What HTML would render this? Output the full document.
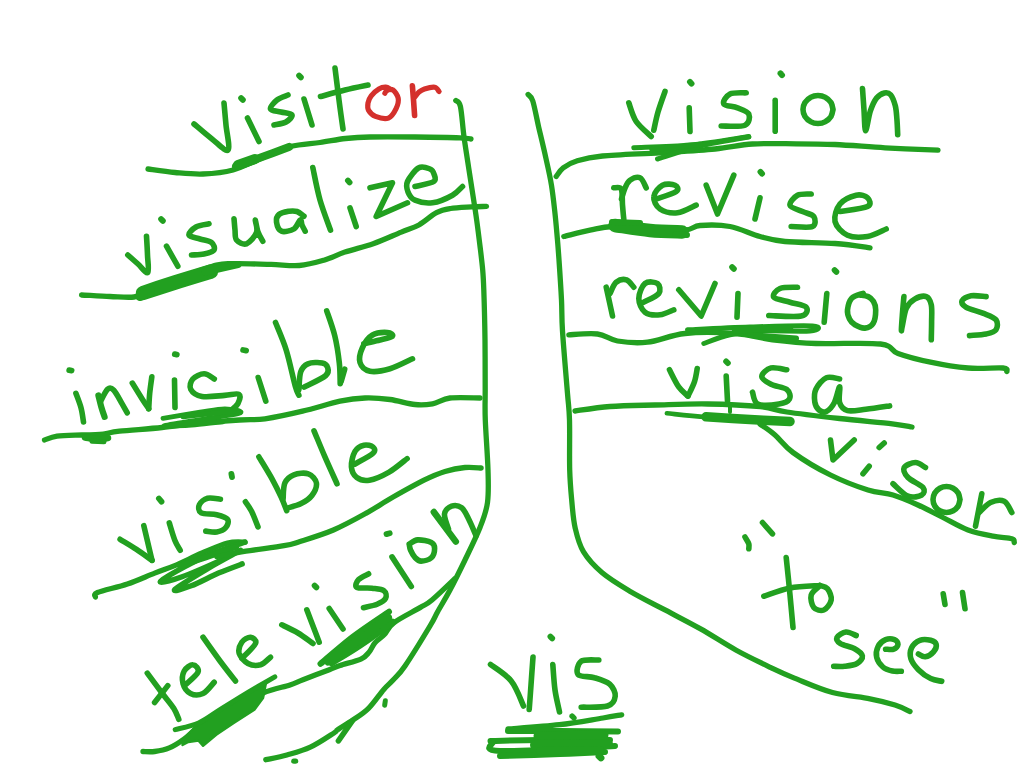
<!DOCTYPE html>
<html><head><meta charset="utf-8"><title>vis - to see</title>
<style>
html,body{margin:0;padding:0;background:#fff;}
body{width:1024px;height:768px;overflow:hidden;font-family:"Liberation Sans",sans-serif;}
svg{display:block}
</style></head><body>
<svg width="1024" height="768" viewBox="0 0 1024 768" fill="none" stroke-linecap="round" stroke-linejoin="round">
<rect width="1024" height="768" fill="#ffffff" stroke="none"/>
<path d="M455.8,100.5 C456.6,101.5 459.0,100.4 460.4,106.4 C461.8,112.5 462.6,126.7 464.0,136.8 C465.4,147.0 467.1,157.2 468.6,167.3 C470.2,177.5 471.9,188.8 473.3,197.7 C474.7,206.6 475.6,212.4 476.8,221.0 C478.0,229.6 479.4,241.1 480.4,249.3 C481.4,257.5 482.1,263.2 482.7,270.0 C483.3,276.8 483.4,278.3 483.8,290.0 C484.2,301.7 484.8,323.3 485.0,340.0 C485.2,356.7 485.1,376.7 485.2,390.0 C485.2,403.3 484.8,406.7 485.3,420.0 C485.8,433.3 487.6,456.2 488.0,470.0 C488.4,483.8 488.8,492.9 487.5,502.5 C486.2,512.1 483.8,517.9 480.0,527.5 C476.2,537.1 470.0,549.6 465.0,560.0 C460.0,570.4 454.6,581.3 450.0,590.0 C445.4,598.7 440.8,606.0 437.5,612.0 C434.2,618.0 435.4,617.0 430.0,626.0 C424.6,635.0 411.1,657.0 405.0,666.0 C398.9,675.0 396.6,676.1 393.1,680.0 C389.6,683.9 387.9,684.7 383.8,689.4 C379.7,694.1 373.6,703.3 368.5,708.4 C363.4,713.5 358.4,716.3 353.3,719.8 C348.2,723.3 341.3,727.3 338.0,729.5 C334.7,731.7 338.4,730.1 333.8,733.1 C329.1,736.1 318.1,743.6 310.3,747.2 C302.5,750.9 294.3,752.9 286.9,755.0 C279.5,757.1 269.3,758.9 265.8,759.7" stroke="#22a020" stroke-width="5.3"/>
<path d="M338.4,740.9 L352.5,720.6" stroke="#22a020" stroke-width="5.5"/>
<path d="M384.7,705.2 L385.3,700.8" stroke="#22a020" stroke-width="5"/>
<path d="M293.8,761.2 L295.6,761.2" stroke="#22a020" stroke-width="5.2"/>
<path d="M528.1,94.5 C528.9,95.6 531.0,95.6 532.8,101.0 C534.5,106.4 536.5,117.4 538.6,126.8 C540.8,136.2 543.6,147.5 545.7,157.3 C547.9,167.1 550.0,176.0 551.5,185.4 C553.0,194.8 554.0,204.5 555.0,213.5 C556.0,222.5 556.7,231.4 557.4,239.2 C558.1,246.9 558.3,249.9 559.0,260.0 C559.7,270.1 560.9,288.2 561.5,300.0 C562.1,311.8 561.5,315.4 562.5,331.0 C563.5,346.6 566.3,378.7 567.5,393.5 C568.7,408.3 569.1,407.2 569.5,420.0 C569.9,432.8 569.3,456.7 569.7,470.0 C570.1,483.3 570.8,490.3 571.7,500.0 C572.6,509.7 573.2,519.5 575.2,528.1 C577.2,536.7 578.9,544.2 583.4,551.6 C587.9,559.0 594.4,566.1 602.2,572.7 C610.0,579.3 619.8,585.1 630.3,591.4 C640.8,597.6 653.8,604.0 665.5,610.2 C677.2,616.5 688.9,622.3 700.6,628.9 C712.3,635.5 724.1,643.5 735.8,650.0 C747.5,656.5 761.1,662.9 770.9,667.6 C780.7,672.3 784.1,674.0 794.4,678.1 C804.7,682.2 819.9,689.1 832.5,692.5 C845.1,695.9 859.6,696.7 870.0,698.8 C880.4,700.8 888.3,702.9 895.0,705.0 C901.7,707.1 907.5,710.4 910.0,711.5" stroke="#22a020" stroke-width="5.3"/>
<path d="M194.0,124.0 C197.0,126.5 206.3,134.7 212.0,139.0 C217.7,143.3 225.7,152.3 228.0,150.0 C230.3,147.7 226.7,132.8 226.0,125.0 C225.3,117.2 224.3,106.7 224.0,103.0" stroke="#22a020" stroke-width="5.6"/>
<path d="M241.1,98.1 L242.9,99.9" stroke="#22a020" stroke-width="5.8"/>
<path d="M247.5,118.0 L259.0,141.5" stroke="#22a020" stroke-width="5.6"/>
<path d="M288.0,95.0 C286.2,95.8 279.9,97.7 277.0,100.0 C274.1,102.3 269.8,107.0 270.5,109.0 C271.2,111.0 277.4,111.0 281.0,112.0 C284.6,113.0 291.2,113.3 292.0,115.0 C292.8,116.7 289.0,120.3 286.0,122.0 C283.0,123.7 276.0,124.5 274.0,125.0" stroke="#22a020" stroke-width="5.6"/>
<path d="M299.1,75.6 L300.9,77.4" stroke="#22a020" stroke-width="5.8"/>
<path d="M304.0,99.0 L312.0,125.0" stroke="#22a020" stroke-width="5.6"/>
<path d="M335.0,68.0 C335.7,73.3 337.7,89.8 339.0,100.0 C340.3,110.2 342.3,124.2 343.0,129.0" stroke="#22a020" stroke-width="5.6"/>
<path d="M320.5,96.5 C324.6,95.4 337.1,91.9 345.0,90.0 C352.9,88.1 364.2,85.8 368.0,85.0" stroke="#22a020" stroke-width="5.6"/>
<path d="M391.0,89.5 C390.1,89.1 387.8,87.3 385.8,87.2 C383.8,87.1 381.3,87.5 378.9,88.9 C376.5,90.3 373.0,93.5 371.2,95.8 C369.4,98.1 368.4,100.6 368.0,103.0 C367.6,105.4 367.4,108.2 368.6,110.4 C369.9,112.6 372.2,115.1 375.5,116.4 C378.8,117.7 385.0,119.4 388.4,118.1 C391.8,116.8 394.5,112.0 396.1,108.7 C397.7,105.4 398.8,101.5 398.2,98.3 C397.6,95.1 394.6,91.0 392.7,89.8 C390.8,88.5 388.3,89.9 387.0,90.5 C385.7,91.1 385.2,92.8 384.9,93.2" stroke="#d4302c" stroke-width="5.2"/>
<path d="M412.4,85.9 C412.6,88.2 413.1,95.1 413.5,100.0 C413.9,104.9 414.4,112.9 414.6,115.5" stroke="#d4302c" stroke-width="5.6"/>
<path d="M414.8,97.0 C415.5,96.2 417.4,93.3 419.0,92.0 C420.6,90.7 421.9,89.7 424.5,88.9 C427.1,88.1 432.4,86.8 434.8,87.2 C437.2,87.6 438.4,90.8 439.1,91.5" stroke="#d4302c" stroke-width="5.2"/>
<path d="M148.0,169.0 C152.5,169.6 165.8,171.7 175.0,172.5 C184.2,173.3 193.3,174.4 203.0,174.0 C212.7,173.6 223.2,172.7 233.0,170.0 C242.8,167.3 252.4,161.9 262.0,158.0 C271.6,154.1 280.8,149.1 290.5,146.5 C300.2,143.9 310.8,143.8 320.0,142.5 C329.2,141.2 337.2,139.4 345.5,138.5 C353.8,137.6 358.4,137.2 370.0,137.0 C381.6,136.8 400.0,136.9 415.0,137.0 C430.0,137.1 450.7,137.4 460.0,137.8 C469.3,138.1 469.2,138.8 471.0,139.0" stroke="#22a020" stroke-width="5.3"/>
<path d="M236.0,166.5 C240.3,164.9 253.2,160.2 262.0,157.0 C270.8,153.8 284.5,148.7 289.0,147.0" stroke="#22a020" stroke-width="8"/>
<path d="M238.0,165.0 L255.0,159.0" stroke="#22a020" stroke-width="10"/>
<path d="M127.8,255.0 C129.5,256.5 134.7,261.1 138.0,264.0 C141.3,266.9 146.2,274.0 147.8,272.5 C149.3,271.0 147.7,261.0 147.5,255.0 C147.3,249.0 146.7,239.4 146.5,236.2" stroke="#22a020" stroke-width="5.6"/>
<path d="M161.1,219.1 L162.9,220.9" stroke="#22a020" stroke-width="5.8"/>
<path d="M166.5,246.2 L177.8,266.2" stroke="#22a020" stroke-width="5.6"/>
<path d="M209.0,223.8 C206.8,224.3 199.3,225.1 196.0,227.0 C192.7,228.9 188.3,233.0 189.0,235.0 C189.7,237.0 196.2,237.8 200.0,239.0 C203.8,240.2 209.2,240.7 211.5,242.5 C213.8,244.3 215.2,248.1 214.0,250.0 C212.8,251.9 207.8,253.2 204.0,254.0 C200.2,254.8 193.6,254.8 191.5,255.0" stroke="#22a020" stroke-width="5.6"/>
<path d="M234.0,218.8 C234.2,220.6 234.6,226.5 235.0,230.0 C235.4,233.5 234.6,237.7 236.5,240.0 C238.4,242.3 243.2,245.0 246.5,243.8 C249.8,242.5 255.0,236.5 256.5,232.5 C258.0,228.5 255.0,220.1 255.2,220.0 C255.5,219.9 256.8,228.5 258.0,232.0 C259.2,235.5 262.0,239.7 262.8,241.2" stroke="#22a020" stroke-width="5.6"/>
<path d="M304.0,216.2 C302.8,215.5 299.5,212.3 297.0,211.5 C294.5,210.7 292.0,210.8 289.0,211.2 C286.0,211.8 281.1,212.7 279.0,214.5 C276.9,216.3 276.1,219.2 276.5,222.0 C276.9,224.8 278.6,230.1 281.5,231.2 C284.4,232.4 290.9,230.6 294.0,228.8 C297.1,226.9 298.9,220.6 300.2,220.0 C301.6,219.4 301.2,223.1 302.0,225.0 C302.8,226.9 304.7,230.2 305.2,231.2" stroke="#22a020" stroke-width="5.6"/>
<path d="M312.8,167.5 C314.0,172.9 317.0,189.5 320.0,200.0 C323.0,210.5 328.8,225.2 330.5,230.2" stroke="#22a020" stroke-width="5.6"/>
<path d="M347.9,180.6 L349.6,182.4" stroke="#22a020" stroke-width="5.8"/>
<path d="M350.0,207.8 L356.2,226.5" stroke="#22a020" stroke-width="5.6"/>
<path d="M370.0,187.8 L392.5,182.8 L376.2,216.5 L407.5,202.8" stroke="#22a020" stroke-width="5.6"/>
<path d="M415.0,186.5 C418.1,185.7 430.6,183.6 433.8,181.5 C436.9,179.4 434.6,176.1 434.0,174.0 C433.4,171.9 432.5,170.0 430.0,169.0 C427.5,168.0 422.5,165.7 418.8,167.8 C415.0,169.8 409.3,177.5 407.5,181.5 C405.7,185.5 406.8,188.9 408.0,192.0 C409.2,195.1 410.9,198.5 415.0,200.2 C419.1,202.0 426.2,203.6 432.5,202.8 C438.8,201.9 447.5,198.0 452.5,195.2 C457.5,192.5 460.8,188.0 462.5,186.5" stroke="#22a020" stroke-width="5.6"/>
<path d="M81.5,295.0 C86.2,295.2 101.2,296.2 110.0,296.5 C118.8,296.8 128.2,297.8 134.0,297.0 C139.8,296.2 137.3,295.2 145.0,292.0 C152.7,288.8 168.1,282.5 180.0,278.0 C191.9,273.5 207.2,267.4 216.5,265.0 C225.8,262.6 226.9,263.8 236.0,263.7 C245.1,263.6 260.6,264.1 271.2,264.4 C281.8,264.7 290.5,266.2 299.3,265.5 C308.1,264.8 316.3,262.4 323.9,260.2 C331.5,258.0 336.8,254.8 345.0,252.1 C353.2,249.3 363.8,247.0 373.2,243.7 C382.6,240.4 393.7,235.2 401.3,232.1 C408.9,229.0 413.0,228.2 418.9,225.0 C424.8,221.8 431.2,215.4 436.5,212.7 C441.8,209.9 444.6,209.5 450.5,208.5 C456.4,207.5 465.6,207.2 471.6,206.8 C477.6,206.5 484.0,206.5 486.5,206.4" stroke="#22a020" stroke-width="5.3"/>
<path d="M143.0,293.0 C148.3,291.2 163.7,286.1 175.0,282.5 C186.3,278.9 205.0,273.3 211.0,271.5" stroke="#22a020" stroke-width="14.5"/>
<path d="M140.0,296.0 L150.0,291.0" stroke="#22a020" stroke-width="10"/>
<path d="M205.0,272.0 L238.0,264.5" stroke="#22a020" stroke-width="7"/>
<path d="M69.2,370.2 L71.6,370.6" stroke="#22a020" stroke-width="5.8"/>
<path d="M75.9,393.3 C76.8,395.7 79.7,402.9 81.0,407.7 C82.3,412.5 83.1,419.6 83.5,422.0" stroke="#22a020" stroke-width="5.6"/>
<path d="M98.4,395.4 C98.9,397.4 100.5,404.1 101.5,407.7 C102.5,411.3 104.1,415.4 104.6,416.9" stroke="#22a020" stroke-width="6.2"/>
<path d="M100.5,401.5 C101.7,399.4 105.5,391.1 107.7,389.2 C109.9,387.3 111.4,387.8 113.8,390.2 C116.2,392.6 119.8,399.8 122.0,403.6 C124.2,407.4 126.3,411.3 127.2,412.8" stroke="#22a020" stroke-width="5.6"/>
<path d="M132.3,383.1 C134.0,385.8 139.8,395.2 142.5,399.5 C145.2,403.8 147.7,407.2 148.7,408.7" stroke="#22a020" stroke-width="5.6"/>
<path d="M151.8,376.9 C151.5,379.6 150.2,388.0 149.7,393.3 C149.2,398.6 148.9,406.1 148.7,408.7" stroke="#22a020" stroke-width="5.6"/>
<path d="M174.8,354.2 L176.8,354.6" stroke="#22a020" stroke-width="5.8"/>
<path d="M174.5,380.0 L175.0,407.5" stroke="#22a020" stroke-width="5.6"/>
<path d="M214.3,379.0 C212.6,378.1 207.7,373.8 204.1,373.8 C200.5,373.8 195.0,376.4 192.8,379.0 C190.6,381.6 189.2,386.3 190.7,389.2 C192.2,392.1 196.3,395.4 202.0,396.4 C207.7,397.4 218.4,395.8 224.6,395.4 C230.8,395.0 236.7,392.9 238.9,394.3 C241.1,395.7 239.3,400.9 237.9,403.6 C236.5,406.3 231.9,409.6 230.7,410.8" stroke="#22a020" stroke-width="5.6"/>
<path d="M243.1,350.0 L246.1,350.6" stroke="#22a020" stroke-width="5.8"/>
<path d="M258.2,377.5 L265.8,401.2" stroke="#22a020" stroke-width="5.6"/>
<path d="M275.5,322.5 C277.3,327.1 283.0,339.7 286.3,350.3 C289.6,360.9 293.2,378.8 295.3,386.2 C297.4,393.7 298.3,393.7 298.9,395.2" stroke="#22a020" stroke-width="5.6"/>
<path d="M298.9,389.8 C299.2,386.8 299.2,376.2 300.7,371.9 C302.2,367.6 304.3,365.3 307.9,363.8 C311.5,362.3 319.0,362.3 322.2,362.9 C325.5,363.5 327.0,365.3 327.6,367.4 C328.2,369.5 329.7,372.2 325.8,375.5 C321.9,378.8 307.9,385.2 304.3,387.1" stroke="#22a020" stroke-width="5.6"/>
<path d="M326.7,310.8 C328.1,315.0 332.7,327.2 334.8,335.9 C336.9,344.6 338.4,354.9 339.3,362.9 C340.2,370.8 340.1,380.2 340.2,383.6" stroke="#22a020" stroke-width="5.6"/>
<path d="M344.7,369.2 L341.1,381.8" stroke="#22a020" stroke-width="5.6"/>
<path d="M363.8,343.8 C366.5,343.1 375.2,341.2 380.0,340.0 C384.8,338.8 391.2,337.5 392.5,336.2 C393.8,335.0 390.8,332.7 387.5,332.5 C384.2,332.3 376.7,332.5 372.5,335.0 C368.3,337.5 364.6,342.9 362.5,347.5 C360.4,352.1 358.8,358.5 360.0,362.5 C361.2,366.5 365.0,370.2 370.0,371.2 C375.0,372.3 382.9,370.8 390.0,368.8 C397.1,366.7 408.8,360.4 412.5,358.8" stroke="#22a020" stroke-width="5.6"/>
<path d="M44.5,440.0 C46.6,439.4 50.8,437.1 57.0,436.2 C63.2,435.4 74.8,435.3 82.0,435.0 C89.2,434.7 93.8,435.1 100.0,434.5 C106.2,433.9 109.2,432.4 119.5,431.2 C129.8,430.1 148.6,428.9 162.0,427.5 C175.4,426.1 187.1,424.2 200.0,423.0 C212.9,421.8 228.7,420.7 239.5,420.0 C250.3,419.3 254.5,420.2 265.0,418.8 C275.5,417.3 290.0,414.2 302.5,411.2 C315.0,408.3 329.6,403.5 340.0,401.2 C350.4,399.0 356.7,398.3 365.0,398.0 C373.3,397.7 381.7,398.4 390.0,399.5 C398.3,400.6 407.9,403.8 415.0,404.5 C422.1,405.2 426.7,404.8 432.5,403.8 C438.3,402.7 442.1,399.0 450.0,398.0 C457.9,397.0 475.0,398.0 480.0,398.0" stroke="#22a020" stroke-width="5.3"/>
<path d="M85.0,437.5 C87.3,437.8 95.2,439.4 99.0,439.5 C102.8,439.6 106.5,438.2 108.0,438.0" stroke="#22a020" stroke-width="6.5"/>
<path d="M92.0,441.2 L104.0,441.8" stroke="#22a020" stroke-width="5"/>
<path d="M163.0,418.3 C169.2,417.3 189.7,413.8 200.0,412.2 C210.3,410.6 218.2,408.7 225.0,408.8 C231.8,408.9 243.8,411.1 240.5,412.8 C237.2,414.5 217.8,416.6 205.0,418.8 C192.2,421.0 165.7,424.8 164.0,425.8 C162.3,426.8 185.2,425.5 195.0,424.8 C204.8,424.1 218.3,422.3 223.0,421.8" stroke="#22a020" stroke-width="4.8"/>
<path d="M183.0,416.8 L234.0,411.0" stroke="#22a020" stroke-width="5"/>
<path d="M120.1,539.3 C122.8,541.0 131.2,545.9 136.5,549.4 C141.8,552.9 149.4,558.5 152.0,560.3" stroke="#22a020" stroke-width="5.6"/>
<path d="M152.0,560.3 L143.8,525.6" stroke="#22a020" stroke-width="5.6"/>
<path d="M158.9,498.5 L161.5,501.7" stroke="#22a020" stroke-width="5.8"/>
<path d="M169.3,522.9 C170.2,525.8 173.0,535.6 174.8,540.2 C176.6,544.8 179.3,548.6 180.2,550.3" stroke="#22a020" stroke-width="5.6"/>
<path d="M220.4,499.2 C218.3,499.1 211.1,497.4 207.6,498.3 C204.1,499.2 200.5,502.3 199.4,504.7 C198.3,507.1 198.3,511.2 201.2,512.9 C204.1,514.6 212.3,513.6 216.7,514.7 C221.1,515.8 226.1,517.2 227.6,519.3 C229.1,521.4 227.6,525.4 225.8,527.5 C224.0,529.6 220.0,531.4 216.7,532.0 C213.4,532.6 207.6,531.2 205.8,531.1" stroke="#22a020" stroke-width="5.6"/>
<path d="M231.4,473.9 L232.0,477.1" stroke="#22a020" stroke-width="5.8"/>
<path d="M245.4,501.8 C246.4,503.4 249.6,507.4 251.7,511.6 C253.8,515.8 256.9,524.4 258.0,526.9" stroke="#22a020" stroke-width="5.6"/>
<path d="M258.9,456.8 C261.1,460.6 268.6,472.6 272.3,479.3 C276.0,486.1 278.9,492.1 281.3,497.3 C283.7,502.5 285.8,508.5 286.7,510.7" stroke="#22a020" stroke-width="5.6"/>
<path d="M283.1,499.0 C283.4,496.3 283.1,486.9 284.9,482.9 C286.7,478.9 290.0,476.3 293.9,474.8 C297.8,473.3 304.6,472.5 308.3,473.9 C312.1,475.2 315.8,479.3 316.4,482.9 C317.0,486.5 314.4,492.1 311.9,495.5 C309.3,498.9 305.2,501.5 301.1,503.6 C297.1,505.7 289.9,507.3 287.6,508.0" stroke="#22a020" stroke-width="5.6"/>
<path d="M314.0,430.8 C315.8,435.0 320.7,447.1 324.5,455.9 C328.3,464.7 334.9,479.1 337.0,483.8" stroke="#22a020" stroke-width="5.6"/>
<path d="M355.0,464.0 C358.0,462.2 370.0,456.0 373.0,453.2 C376.0,450.4 374.5,448.3 373.0,447.0 C371.5,445.7 367.0,444.5 364.0,445.2 C361.0,445.9 357.1,447.8 355.0,451.4 C352.9,455.0 351.1,462.3 351.4,466.7 C351.7,471.1 353.8,475.2 356.8,477.5 C359.8,479.8 364.0,481.1 369.4,480.2 C374.8,479.3 382.8,475.7 389.1,472.1 C395.4,468.5 404.1,460.9 407.1,458.6" stroke="#22a020" stroke-width="5.6"/>
<path d="M95.5,597.0 C95.8,596.2 92.2,594.7 97.5,592.5 C102.8,590.3 117.9,587.2 127.4,584.0 C136.9,580.8 146.5,576.3 154.7,573.1 C162.9,569.9 168.7,568.2 176.6,564.9 C184.5,561.5 193.6,556.6 202.1,553.0 C210.6,549.4 220.4,544.8 227.6,543.0 C234.8,541.2 242.1,542.2 245.0,542.1" stroke="#22a020" stroke-width="5.3"/>
<path d="M245.0,542.1 C239.1,544.2 220.8,549.9 209.4,554.8 C198.0,559.6 184.8,566.6 176.6,571.2 C168.4,575.8 159.3,581.3 160.2,582.2 C161.1,583.1 172.7,580.1 182.1,576.7 C191.5,573.4 207.0,566.5 216.7,562.1 C226.4,557.7 241.6,549.4 240.4,550.3 C239.2,551.2 220.3,561.1 209.4,567.6 C198.5,574.1 177.8,586.5 174.8,589.5 C171.8,592.5 183.9,588.5 191.2,585.8 C198.5,583.1 210.0,576.8 218.5,573.1 C227.0,569.5 238.2,565.4 242.2,563.9" stroke="#22a020" stroke-width="5.4"/>
<path d="M180.0,566.0 C185.0,564.3 200.7,559.2 210.0,556.0 C219.3,552.8 231.7,548.5 236.0,547.0" stroke="#22a020" stroke-width="6"/>
<path d="M216.7,556.6 C221.6,555.7 234.7,553.0 245.9,551.2 C257.1,549.4 275.0,547.3 284.0,545.7 C293.0,544.1 291.8,544.1 300.0,541.5 C308.2,538.9 322.4,534.7 333.4,530.0 C344.4,525.3 355.9,518.9 365.8,513.4 C375.7,507.9 383.0,502.8 392.7,497.3 C402.4,491.8 415.3,484.5 424.0,480.2 C432.7,475.9 438.2,473.6 445.0,471.5 C451.8,469.4 459.0,468.1 465.0,467.5 C471.0,466.9 478.5,467.9 481.2,468.0" stroke="#22a020" stroke-width="5.3"/>
<path d="M147.3,673.2 C149.8,676.5 157.6,687.1 162.0,693.0 C166.4,698.9 170.9,703.9 173.7,708.3 C176.5,712.7 178.0,717.5 178.8,719.3" stroke="#22a020" stroke-width="5.6"/>
<path d="M154.6,702.5 L167.8,685.6" stroke="#22a020" stroke-width="5.6"/>
<path d="M184.2,686.0 C186.5,683.7 196.5,675.8 198.0,672.2 C199.5,668.7 195.3,665.0 193.0,664.8 C190.7,664.5 185.9,667.9 184.2,671.0 C182.6,674.1 182.0,679.8 183.0,683.5 C184.0,687.2 187.2,691.8 190.5,693.5 C193.8,695.2 199.0,695.4 203.0,693.5 C207.0,691.6 212.4,684.1 214.2,682.2" stroke="#22a020" stroke-width="5.6"/>
<path d="M203.0,637.2 C205.8,641.2 214.6,653.7 220.0,661.0 C225.4,668.3 232.9,677.7 235.5,681.0" stroke="#22a020" stroke-width="5.6"/>
<path d="M241.8,658.5 C244.0,656.0 254.0,647.0 255.5,643.5 C257.0,640.0 252.8,637.5 250.5,637.2 C248.2,637.0 243.6,639.5 241.8,642.2 C239.9,645.0 238.2,650.0 239.2,653.5 C240.3,657.0 244.5,661.6 248.0,663.5 C251.5,665.4 256.8,665.8 260.5,664.8 C264.2,663.7 268.8,658.5 270.5,657.2" stroke="#22a020" stroke-width="5.6"/>
<path d="M281.8,624.8 C284.5,626.1 292.8,629.9 298.0,633.0 C303.2,636.1 310.5,641.8 313.0,643.5" stroke="#22a020" stroke-width="5.6"/>
<path d="M306.8,609.8 C307.8,612.5 310.9,620.6 313.0,626.0 C315.1,631.4 318.2,639.5 319.2,642.2" stroke="#22a020" stroke-width="5.6"/>
<path d="M314.6,585.6 L316.4,587.4" stroke="#22a020" stroke-width="5.8"/>
<path d="M329.2,608.5 L343.0,629.0" stroke="#22a020" stroke-width="5.6"/>
<path d="M368.6,573.8 C366.9,574.8 360.5,577.5 358.5,579.7 C356.5,582.0 354.6,585.9 356.8,587.3 C359.1,588.7 367.5,587.6 372.0,588.2 C376.5,588.8 381.6,589.0 383.9,590.7 C386.2,592.4 386.7,596.0 385.6,598.3 C384.5,600.6 380.8,602.7 377.1,604.3 C373.4,605.9 365.8,607.1 363.5,607.7" stroke="#22a020" stroke-width="5.6"/>
<path d="M386.5,534.1 L389.7,533.3" stroke="#22a020" stroke-width="5.8"/>
<path d="M392.0,556.9 L411.3,586.5" stroke="#22a020" stroke-width="5.6"/>
<path d="M409.2,544.2 C410.7,543.5 414.0,540.2 417.7,539.9 C421.4,539.6 428.5,541.1 431.3,542.5 C434.1,543.9 434.6,545.9 434.6,548.4 C434.6,550.9 433.6,555.6 431.3,557.7 C429.1,559.8 423.8,561.1 421.1,561.1 C418.4,561.1 417.0,559.6 415.2,557.7 C413.4,555.9 411.5,552.2 410.5,550.0 C409.5,547.8 409.5,545.2 409.2,544.2" stroke="#22a020" stroke-width="5.6"/>
<path d="M433.8,512.0 L455.8,541.6" stroke="#22a020" stroke-width="6.5"/>
<path d="M448.5,529.0 C447.8,526.5 444.0,517.8 444.5,514.0 C445.0,510.2 448.7,507.1 451.6,506.1 C454.5,505.1 458.9,505.7 461.7,507.8 C464.5,509.9 466.1,514.1 468.5,518.8 C470.9,523.4 474.8,532.9 476.1,535.7" stroke="#22a020" stroke-width="5.6"/>
<path d="M143.0,751.5 C144.9,751.5 150.2,752.1 154.6,751.5 C159.0,750.9 164.4,750.0 169.3,747.9 C174.2,745.8 178.9,742.8 184.0,739.1 C189.1,735.5 192.3,731.0 200.0,726.0 C207.7,721.0 219.5,714.5 230.0,709.0 C240.5,703.5 253.0,697.0 263.0,693.0 C273.0,689.0 283.3,687.1 290.0,684.9 C296.7,682.7 296.4,682.3 303.0,679.8 C309.6,677.2 323.1,672.1 329.3,669.7 C335.5,667.3 334.7,667.3 340.0,665.5 C345.3,663.7 356.0,661.3 360.9,659.1 C365.8,656.9 366.8,654.8 369.1,652.1 C371.5,649.4 372.4,645.6 375.0,642.7 C377.6,639.8 381.3,637.8 384.4,634.5 C387.5,631.2 387.8,627.3 393.8,622.8 C399.7,618.3 413.6,611.4 420.0,607.6 C426.4,603.8 426.2,604.9 432.0,600.0 C437.8,595.1 451.2,582.1 455.0,578.5" stroke="#22a020" stroke-width="5.3"/>
<path d="M184.0,739.0 L198.6,723.0 L222.0,708.3 L248.4,692.2 L266.0,682.5 L263.0,698.1 L254.3,709.8 L233.7,723.0 L216.2,734.7 L203.0,745.7 L198.6,740.6 L188.3,742.0 L182.5,745.0 L184.0,739.0Z" stroke="#22a020" stroke-width="2.5" fill="#22a020"/>
<path d="M175.2,729.6 C179.1,728.5 190.8,726.5 198.6,723.0 C206.4,719.5 213.7,713.4 222.0,708.3 C230.3,703.2 239.6,697.5 248.4,692.2 C257.2,687.0 270.4,679.4 274.8,676.8" stroke="#22a020" stroke-width="5"/>
<path d="M320.5,663.8 C325.9,659.3 341.3,645.6 352.7,636.9 C364.1,628.2 382.9,615.9 389.0,611.7" stroke="#22a020" stroke-width="6"/>
<path d="M331.6,662.7 C336.3,659.8 349.8,651.8 360.0,645.0 C370.2,638.2 387.2,626.0 392.6,622.2" stroke="#22a020" stroke-width="7"/>
<path d="M328.0,661.5 C332.8,658.2 347.0,648.8 357.0,641.5 C367.0,634.2 382.8,621.5 388.0,617.5" stroke="#22a020" stroke-width="8"/>
<path d="M490.5,664.5 C494.0,667.2 505.8,674.1 511.2,681.0 C516.8,687.9 521.5,701.8 523.5,706.0" stroke="#22a020" stroke-width="5.6"/>
<path d="M533.0,657.0 C532.7,661.7 531.6,676.2 531.0,685.0 C530.4,693.8 529.5,705.4 529.2,709.5" stroke="#22a020" stroke-width="5.6"/>
<path d="M550.4,636.6 L552.2,638.4" stroke="#22a020" stroke-width="5.8"/>
<path d="M552.8,664.5 C553.2,668.8 553.9,682.1 555.0,690.0 C556.1,697.9 558.8,708.3 559.5,712.0" stroke="#22a020" stroke-width="5.6"/>
<path d="M572.1,716.1 L573.9,717.9" stroke="#22a020" stroke-width="5.5"/>
<path d="M598.8,660.0 C595.8,660.2 584.7,658.9 581.2,661.2 C577.8,663.6 575.8,671.7 578.0,674.4 C580.2,677.1 589.1,676.1 594.4,677.7 C599.7,679.3 606.2,681.1 609.7,684.2 C613.2,687.3 615.6,692.6 615.2,696.2 C614.8,699.9 613.2,704.2 607.5,706.0 C601.8,707.8 585.6,707.0 581.2,707.2" stroke="#22a020" stroke-width="5.6"/>
<path d="M508.0,729.0 C516.6,728.3 543.6,726.5 559.4,724.7 C575.2,722.9 592.6,719.6 603.0,718.0 C613.4,716.4 618.6,715.3 621.7,714.8" stroke="#22a020" stroke-width="5.3"/>
<path d="M508.0,731.0 C516.7,731.0 541.7,730.9 560.0,731.0 C578.3,731.1 608.3,731.4 618.0,731.5" stroke="#22a020" stroke-width="6"/>
<path d="M490.5,741.0 C498.8,740.8 520.1,740.2 540.0,740.0 C559.9,739.8 598.3,740.0 610.0,740.0" stroke="#22a020" stroke-width="6"/>
<path d="M493.0,742.0 C494.2,743.5 479.7,750.3 500.0,751.0 C520.3,751.7 595.8,746.8 615.0,746.0" stroke="#22a020" stroke-width="6"/>
<path d="M500.0,756.0 C510.0,755.7 542.5,754.7 560.0,754.0 C577.5,753.3 597.5,752.3 605.0,752.0" stroke="#22a020" stroke-width="6"/>
<path d="M538.0,736.0 L604.0,735.0" stroke="#22a020" stroke-width="9"/>
<path d="M535.0,745.0 L608.0,744.0" stroke="#22a020" stroke-width="10"/>
<path d="M540.0,751.0 L600.0,750.0" stroke="#22a020" stroke-width="8"/>
<path d="M599.1,756.1 L600.9,757.9" stroke="#22a020" stroke-width="7"/>
<path d="M628.8,102.8 C630.0,105.9 632.5,115.9 636.2,121.5 C640.0,127.1 648.8,134.0 651.2,136.5" stroke="#22a020" stroke-width="5.6"/>
<path d="M665.0,91.5 C663.8,94.9 659.9,105.5 658.0,112.0 C656.1,118.5 654.5,127.2 653.8,130.2" stroke="#22a020" stroke-width="5.6"/>
<path d="M689.9,81.8 L691.6,83.7" stroke="#22a020" stroke-width="5.8"/>
<path d="M689.2,107.8 L690.0,131.5" stroke="#22a020" stroke-width="5.6"/>
<path d="M746.2,92.8 C743.5,93.0 733.8,92.1 730.0,94.0 C726.2,95.9 722.5,101.7 723.8,104.0 C725.0,106.3 733.3,106.1 737.5,107.8 C741.7,109.4 747.5,111.1 748.8,114.0 C750.0,116.9 749.6,123.2 745.0,125.2 C740.4,127.2 725.2,125.9 721.2,126.0" stroke="#22a020" stroke-width="5.6"/>
<path d="M780.4,73.3 L782.1,75.2" stroke="#22a020" stroke-width="5.8"/>
<path d="M775.2,100.2 L775.2,131.2" stroke="#22a020" stroke-width="5.6"/>
<path d="M833.0,109.5 C832.7,110.7 832.2,114.5 831.0,116.5 C829.7,118.5 827.7,120.5 825.5,121.6 C823.3,122.8 820.5,123.5 818.0,123.5 C815.5,123.5 812.7,122.8 810.5,121.6 C808.3,120.5 806.3,118.5 805.0,116.5 C803.8,114.5 803.0,111.8 803.0,109.5 C803.0,107.2 803.8,104.5 805.0,102.5 C806.3,100.5 808.3,98.5 810.5,97.4 C812.7,96.2 815.5,95.5 818.0,95.5 C820.5,95.5 823.3,96.2 825.5,97.4 C827.7,98.5 829.7,100.5 831.0,102.5 C832.2,104.5 832.7,108.3 833.0,109.5" stroke="#22a020" stroke-width="5.6"/>
<path d="M862.5,88.6 C862.8,92.2 863.5,103.0 864.0,110.0 C864.5,117.0 864.6,130.6 865.6,130.8 C866.6,131.0 868.5,116.7 870.3,111.2 C872.1,105.8 874.2,101.1 876.6,98.0 C879.0,94.9 882.1,93.4 884.4,92.9 C886.7,92.4 888.8,92.7 890.6,94.8 C892.4,96.9 894.2,101.8 895.3,105.8 C896.3,109.8 896.5,114.2 896.9,119.0 C897.3,123.8 897.6,132.1 897.7,134.7" stroke="#22a020" stroke-width="5.6"/>
<path d="M556.2,176.5 C557.4,175.1 559.7,170.4 563.2,167.8 C566.7,165.2 570.8,162.8 577.3,160.8 C583.8,158.8 588.7,157.3 602.5,156.0 C616.3,154.7 641.2,153.9 660.0,152.8 C678.8,151.6 699.6,150.5 715.0,149.0 C730.4,147.5 739.0,144.9 752.5,144.0 C766.0,143.1 782.2,143.7 796.0,143.8 C809.8,143.8 820.2,143.8 835.0,144.5 C849.8,145.2 867.8,146.8 885.0,147.8 C902.2,148.7 929.2,149.8 938.0,150.2" stroke="#22a020" stroke-width="5.3"/>
<path d="M633.8,147.8 C643.1,147.3 670.8,146.9 690.0,145.0 C709.2,143.1 739.0,137.9 748.8,136.5" stroke="#22a020" stroke-width="5"/>
<path d="M748.8,137.0 C740.6,138.5 715.2,142.3 700.0,146.0 C684.8,149.7 664.6,156.8 657.5,159.0" stroke="#22a020" stroke-width="5"/>
<path d="M652.0,149.5 L700.0,144.5" stroke="#22a020" stroke-width="5.5"/>
<path d="M613.8,187.8 C615.0,188.0 619.8,186.1 621.2,189.0 C622.7,191.9 622.1,200.0 622.5,205.0 C622.9,210.0 623.5,216.7 623.8,219.0" stroke="#22a020" stroke-width="5.6"/>
<path d="M621.5,199.0 C622.1,197.2 623.6,191.1 625.0,188.0 C626.4,184.9 627.5,182.0 630.0,180.2 C632.5,178.5 637.3,176.5 640.0,177.8 C642.7,179.0 645.2,186.1 646.2,187.8" stroke="#22a020" stroke-width="5.6"/>
<path d="M656.2,199.0 C659.6,197.8 673.1,193.8 676.2,191.5 C679.4,189.2 677.3,186.3 675.0,185.2 C672.7,184.2 666.0,183.4 662.5,185.2 C659.0,187.1 654.2,192.5 653.8,196.5 C653.3,200.5 656.0,206.3 660.0,209.0 C664.0,211.7 671.5,213.4 677.5,212.8 C683.5,212.1 693.1,206.5 696.2,205.2" stroke="#22a020" stroke-width="5.6"/>
<path d="M706.2,185.2 L717.5,214.0 L733.8,175.2" stroke="#22a020" stroke-width="5.6"/>
<path d="M760.4,171.8 L762.1,173.7" stroke="#22a020" stroke-width="5.8"/>
<path d="M760.0,197.8 L755.0,219.0" stroke="#22a020" stroke-width="5.6"/>
<path d="M811.2,194.0 C809.0,194.2 801.0,193.4 797.5,195.2 C794.0,197.1 789.2,202.5 790.0,205.2 C790.8,208.0 798.5,209.6 802.5,211.5 C806.5,213.4 812.1,214.0 813.8,216.5 C815.4,219.0 816.2,224.8 812.5,226.5 C808.8,228.2 794.8,226.5 791.2,226.5" stroke="#22a020" stroke-width="5.6"/>
<path d="M840.0,211.5 C844.6,210.7 862.9,208.8 867.5,206.5 C872.1,204.2 869.4,199.6 867.5,197.8 C865.6,195.9 860.8,194.2 856.2,195.2 C851.7,196.3 843.5,199.6 840.0,204.0 C836.5,208.4 833.8,216.3 835.0,221.5 C836.2,226.7 842.1,232.8 847.5,235.2 C852.9,237.8 861.0,237.5 867.5,236.5 C874.0,235.5 883.1,230.2 886.2,229.0" stroke="#22a020" stroke-width="5.6"/>
<path d="M563.8,236.5 C568.1,235.5 581.9,231.9 590.0,230.2 C598.1,228.6 602.5,226.9 612.5,226.5 C622.5,226.1 637.9,227.4 650.0,228.0 C662.1,228.6 676.7,230.4 685.0,230.0 C693.3,229.6 692.5,226.1 700.0,225.5 C707.5,224.9 720.0,224.7 730.0,226.5 C740.0,228.3 750.8,234.0 760.0,236.5 C769.2,239.0 772.5,240.3 785.0,241.5 C797.5,242.7 820.8,242.5 835.0,243.5 C849.2,244.5 864.2,247.0 870.0,247.8" stroke="#22a020" stroke-width="5.3"/>
<path d="M615.0,225.5 C620.8,226.3 638.8,229.4 650.0,230.5 C661.2,231.6 676.7,231.8 682.0,232.0" stroke="#22a020" stroke-width="13.5"/>
<path d="M612.0,222.0 L640.0,223.0" stroke="#22a020" stroke-width="6"/>
<path d="M675.0,234.5 L687.0,235.0" stroke="#22a020" stroke-width="6"/>
<path d="M606.2,287.2 L612.5,316.0" stroke="#22a020" stroke-width="5.6"/>
<path d="M610.0,293.5 C611.0,291.6 613.5,284.5 616.2,282.2 C619.0,280.0 623.3,278.9 626.2,279.8 C629.2,280.6 632.5,286.0 633.8,287.2" stroke="#22a020" stroke-width="5.6"/>
<path d="M643.8,302.2 C646.2,300.8 656.5,296.6 658.8,293.5 C661.0,290.4 659.8,285.2 657.5,283.5 C655.2,281.8 648.1,281.0 645.0,283.5 C641.9,286.0 638.8,293.7 638.8,298.5 C638.8,303.3 641.5,309.5 645.0,312.2 C648.5,315.0 655.2,315.2 660.0,314.8 C664.8,314.3 671.5,310.6 673.8,309.8" stroke="#22a020" stroke-width="5.6"/>
<path d="M678.8,289.8 L701.2,316.0 L715.0,283.5" stroke="#22a020" stroke-width="5.6"/>
<path d="M732.1,267.1 L733.9,268.9" stroke="#22a020" stroke-width="5.8"/>
<path d="M738.0,293.5 L737.0,317.2" stroke="#22a020" stroke-width="5.6"/>
<path d="M797.5,287.2 C794.6,287.5 784.0,286.8 780.0,288.5 C776.0,290.2 772.1,295.0 773.8,297.2 C775.4,299.5 784.6,300.6 790.0,302.2 C795.4,303.9 804.4,305.0 806.2,307.2 C808.1,309.5 807.5,314.6 801.2,316.0 C795.0,317.4 774.2,315.6 768.8,315.5" stroke="#22a020" stroke-width="5.6"/>
<path d="M834.6,270.1 L836.4,271.9" stroke="#22a020" stroke-width="5.8"/>
<path d="M826.8,293.5 L824.2,322.2" stroke="#22a020" stroke-width="5.6"/>
<path d="M863.2,293.3 C861.3,294.1 854.2,295.5 851.6,298.3 C849.0,301.1 847.9,306.4 847.5,309.9 C847.1,313.3 848.3,316.5 849.5,319.0 C850.7,321.5 852.3,323.3 854.9,324.8 C857.5,326.3 861.8,328.4 864.9,328.1 C868.0,327.8 871.4,326.2 873.2,323.2 C875.0,320.2 875.7,313.5 875.7,309.9 C875.8,306.3 874.8,303.7 873.5,301.5 C872.2,299.3 870.5,297.7 868.2,296.6 C865.9,295.5 861.3,295.2 859.9,294.9" stroke="#22a020" stroke-width="5.6"/>
<path d="M903.9,296.6 C903.7,299.3 902.9,307.5 902.5,313.0 C902.1,318.5 901.4,327.6 901.4,329.8 C901.4,332.1 901.4,330.1 902.2,326.5 C903.1,322.9 904.3,312.8 906.4,308.2 C908.5,303.6 911.4,301.0 914.7,299.1 C918.0,297.2 923.5,295.6 926.3,296.6 C929.1,297.6 930.4,300.7 931.3,304.9 C932.2,309.1 931.6,316.2 931.6,322.0 C931.6,327.8 931.3,336.8 931.3,339.8" stroke="#22a020" stroke-width="5.6"/>
<path d="M986.1,296.6 C983.6,296.5 975.1,295.1 971.1,295.8 C967.1,296.5 962.8,298.8 962.0,300.8 C961.2,302.7 962.7,305.3 966.2,307.4 C969.7,309.5 977.8,311.1 982.8,313.2 C987.8,315.3 993.8,317.0 996.0,319.8 C998.2,322.6 997.6,327.4 996.0,329.8 C994.4,332.2 990.5,333.0 986.1,334.0 C981.7,335.0 972.3,335.3 969.5,335.6" stroke="#22a020" stroke-width="5.6"/>
<path d="M568.8,334.8 C573.5,334.6 589.4,333.0 597.5,334.0 C605.6,335.0 609.2,339.6 617.5,341.0 C625.8,342.4 636.2,343.5 647.5,342.2 C658.8,341.0 670.4,335.0 685.0,333.5 C699.6,332.0 720.4,332.5 735.0,333.5 C749.6,334.5 759.0,338.1 772.5,339.8 C786.0,341.4 798.0,342.8 816.0,343.5 C834.0,344.2 866.8,342.3 880.5,344.0 C894.2,345.7 889.7,350.5 898.0,353.5 C906.3,356.5 918.8,359.8 930.5,362.2 C942.2,364.7 955.9,367.0 968.0,368.0 C980.1,369.0 996.5,367.4 1003.0,368.0 C1009.5,368.6 1006.1,370.9 1006.8,371.5" stroke="#22a020" stroke-width="5.3"/>
<path d="M687.5,329.8 C697.9,329.3 729.2,327.6 750.0,327.0 C770.8,326.4 802.5,325.3 812.5,326.0 C822.5,326.7 818.8,330.2 810.0,331.0 C801.2,331.8 773.3,330.4 760.0,331.0 C746.7,331.6 739.4,332.7 730.0,334.8 C720.6,336.8 708.1,342.0 703.8,343.5" stroke="#22a020" stroke-width="5"/>
<path d="M735.0,330.0 L790.0,329.0" stroke="#22a020" stroke-width="6.5"/>
<path d="M750.0,335.0 L796.0,338.5" stroke="#22a020" stroke-width="6"/>
<path d="M669.5,369.8 C671.0,372.6 675.6,382.5 678.7,386.9 C681.8,391.3 686.5,394.6 688.0,396.1" stroke="#22a020" stroke-width="5.6"/>
<path d="M688.0,396.1 C689.1,393.7 693.0,386.2 694.5,381.6 C696.0,377.0 696.8,370.7 697.2,368.5" stroke="#22a020" stroke-width="5.6"/>
<path d="M726.1,361.4 L727.9,363.1" stroke="#22a020" stroke-width="5.8"/>
<path d="M726.2,376.0 L727.5,401.0" stroke="#22a020" stroke-width="5.6"/>
<path d="M786.8,369.8 C784.2,369.5 775.2,366.8 771.0,367.9 C766.8,369.0 761.8,373.7 761.8,376.4 C761.8,379.1 766.8,382.1 771.0,384.3 C775.2,386.5 783.7,387.1 786.8,389.5 C789.9,391.9 790.8,396.4 789.5,398.8 C788.2,401.2 784.2,403.1 778.9,404.0 C773.6,404.9 762.2,406.0 757.8,404.0 C753.4,402.0 753.4,394.2 752.5,392.2" stroke="#22a020" stroke-width="5.6"/>
<path d="M839.6,379.0 C837.4,378.8 830.4,375.9 826.4,377.7 C822.4,379.4 817.7,385.4 815.8,389.5 C813.9,393.6 814.3,398.6 814.8,402.0 C815.3,405.4 817.1,408.4 819.0,410.0 C820.9,411.6 823.9,412.7 826.4,411.5 C828.9,410.3 832.1,406.8 834.3,402.7 C836.5,398.6 838.7,386.9 839.6,386.9 C840.5,386.9 838.3,398.8 839.6,402.7 C840.9,406.6 843.1,409.5 847.5,410.6 C851.9,411.7 858.9,410.1 865.9,409.3 C872.9,408.5 885.6,406.5 889.6,405.9" stroke="#22a020" stroke-width="5.6"/>
<path d="M575.0,411.0 C580.8,410.2 596.7,407.5 610.0,406.5 C623.3,405.5 638.7,405.4 655.0,405.0 C671.3,404.6 690.1,403.7 707.7,404.0 C725.3,404.3 747.3,405.4 760.5,406.7 C773.7,408.0 773.6,410.0 786.8,412.0 C800.0,414.0 822.0,416.5 839.6,418.5 C857.2,420.5 880.2,422.4 892.3,423.8 C904.4,425.2 908.7,426.5 912.0,427.0" stroke="#22a020" stroke-width="5.3"/>
<path d="M666.9,413.3 C673.7,413.9 687.2,415.9 707.7,417.2 C728.2,418.5 776.3,420.4 790.0,421.0" stroke="#22a020" stroke-width="4.6"/>
<path d="M706.0,416.8 C713.3,417.2 736.0,418.7 750.0,419.5 C764.0,420.3 783.3,421.2 790.0,421.5" stroke="#22a020" stroke-width="9.5"/>
<path d="M730.0,406.0 L730.0,412.0" stroke="#22a020" stroke-width="4"/>
<path d="M830.5,440.0 L833.0,460.0 L854.2,440.0" stroke="#22a020" stroke-width="5.6"/>
<path d="M879.2,447.5 L884.2,443.0" stroke="#22a020" stroke-width="5.6"/>
<path d="M863.0,473.8 L869.2,466.2" stroke="#22a020" stroke-width="5.6"/>
<path d="M925.5,467.5 C923.8,466.7 919.0,462.5 915.5,462.5 C912.0,462.5 905.5,465.0 904.2,467.5 C903.0,470.0 904.9,474.2 908.0,477.5 C911.1,480.8 920.7,484.6 923.0,487.5 C925.3,490.4 924.2,493.5 921.8,495.0 C919.2,496.5 912.8,498.1 908.0,496.2 C903.2,494.4 895.5,485.8 893.0,483.8" stroke="#22a020" stroke-width="5.6"/>
<path d="M960.0,499.5 C959.7,500.6 959.3,504.1 958.2,506.0 C957.1,507.9 955.2,509.7 953.2,510.8 C951.3,511.8 948.8,512.5 946.5,512.5 C944.2,512.5 941.7,511.8 939.8,510.8 C937.8,509.7 935.9,507.9 934.8,506.0 C933.7,504.1 933.0,501.7 933.0,499.5 C933.0,497.3 933.7,494.9 934.8,493.0 C935.9,491.1 937.8,489.3 939.8,488.2 C941.7,487.2 944.2,486.5 946.5,486.5 C948.8,486.5 951.3,487.2 953.2,488.2 C955.2,489.3 957.1,491.1 958.2,493.0 C959.3,494.9 959.7,498.4 960.0,499.5" stroke="#22a020" stroke-width="5.6"/>
<path d="M981.8,493.8 L975.5,526.2" stroke="#22a020" stroke-width="5.6"/>
<path d="M979.2,512.5 C981.1,510.8 986.3,504.4 990.5,502.5 C994.7,500.6 1000.7,499.6 1004.2,501.2 C1007.8,502.9 1010.5,510.6 1011.8,512.5" stroke="#22a020" stroke-width="5.6"/>
<path d="M760.0,424.0 C762.5,425.8 769.5,430.2 775.0,435.0 C780.5,439.8 783.8,445.8 793.0,452.5 C802.2,459.2 818.0,468.8 830.5,475.0 C843.0,481.2 857.6,486.7 868.0,490.0 C878.4,493.3 884.7,492.5 893.0,495.0 C901.3,497.5 909.7,501.2 918.0,505.0 C926.3,508.8 934.7,513.3 943.0,517.5 C951.3,521.7 959.7,526.9 968.0,530.0 C976.3,533.1 985.7,534.8 993.0,536.2 C1000.3,537.7 1008.2,537.7 1011.8,538.8 C1015.3,539.8 1013.8,541.9 1014.2,542.5" stroke="#22a020" stroke-width="5.3"/>
<path d="M745.0,537.0 C745.6,538.1 748.1,541.8 748.8,543.8 C749.4,545.7 748.8,547.9 748.8,548.8" stroke="#22a020" stroke-width="5.6"/>
<path d="M762.5,522.5 L772.5,533.8" stroke="#22a020" stroke-width="5.6"/>
<path d="M786.2,557.5 C786.9,563.8 788.9,583.3 790.0,595.0 C791.1,606.7 792.5,622.1 793.0,627.5" stroke="#22a020" stroke-width="5.6"/>
<path d="M763.8,596.2 C768.1,594.9 780.6,589.8 790.0,588.0 C799.4,586.2 815.0,585.9 820.0,585.5" stroke="#22a020" stroke-width="5.6"/>
<path d="M820.0,585.5 C818.5,587.1 812.3,591.3 811.2,595.0 C810.2,598.7 811.7,605.0 813.8,607.5 C815.8,610.0 820.8,611.2 823.8,610.0 C826.7,608.8 830.6,603.5 831.2,600.0 C831.9,596.5 829.4,591.2 827.5,588.8 C825.6,586.3 821.2,586.0 820.0,585.5" stroke="#22a020" stroke-width="5.6"/>
<path d="M856.2,635.5 C854.5,634.9 849.2,631.7 846.0,632.0 C842.8,632.3 837.9,635.5 837.0,637.5 C836.1,639.5 837.6,641.9 840.5,643.7 C843.4,645.5 850.6,646.5 854.2,648.5 C857.9,650.5 861.9,653.5 862.4,656.0 C862.9,658.5 860.0,661.8 857.0,663.5 C854.0,665.2 848.5,665.8 844.6,666.3 C840.7,666.8 835.5,666.3 833.7,666.3" stroke="#22a020" stroke-width="5.6"/>
<path d="M885.6,649.2 C887.0,649.2 891.7,650.0 893.8,649.2 C895.9,648.4 897.9,646.0 898.0,644.4 C898.1,642.8 896.6,640.4 894.5,639.6 C892.4,638.8 888.3,638.5 885.6,639.6 C882.9,640.7 879.6,643.4 878.1,646.4 C876.6,649.4 875.9,654.0 876.7,657.4 C877.5,660.8 880.3,664.7 882.9,667.0 C885.5,669.3 889.4,670.3 892.5,671.0 C895.6,671.7 899.8,671.2 901.3,671.3" stroke="#22a020" stroke-width="5.6"/>
<path d="M918.4,654.0 C919.5,654.5 922.8,657.1 925.3,656.7 C927.8,656.4 931.7,654.0 933.5,651.9 C935.3,649.8 936.7,646.3 936.2,644.4 C935.7,642.5 933.4,641.0 930.7,640.3 C928.0,639.6 923.0,639.0 919.8,640.3 C916.6,641.5 913.1,644.7 911.6,647.8 C910.1,650.9 909.8,655.1 910.9,658.8 C912.0,662.4 915.1,666.4 918.4,669.7 C921.7,673.0 926.8,676.7 930.7,678.6 C934.6,680.5 939.9,680.8 941.7,681.3" stroke="#22a020" stroke-width="5.6"/>
<path d="M943.2,593.8 L945.0,604.5" stroke="#22a020" stroke-width="5.6"/>
<path d="M962.5,592.5 L965.0,608.8" stroke="#22a020" stroke-width="5.6"/>
</svg>
</body></html>
